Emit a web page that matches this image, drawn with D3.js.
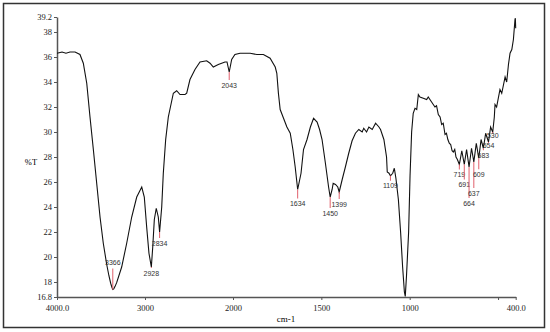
<!DOCTYPE html>
<html>
<head>
<meta charset="utf-8">
<script src="https://cdn.jsdelivr.net/npm/d3@7"></script>
<style>
  body { margin: 0; background: #fff; }
  svg { display: block; }
  .tick text { font-family: "Liberation Serif", serif; font-size: 8.5px; fill: #222; }
  .axis path, .axis line { stroke: #555; }
  .peak { font-family: "Liberation Sans", Arial, sans-serif; font-size: 7px; fill: #333; }
</style>
</head>
<body>
<svg width="550" height="332"></svg>
<script>
// spectrum
var wavenumber = [4000,3943,3898,3852,3795,3739,3701,3662,3625,3587,3549,3511,3474,3435,3410,3390,3375,3366,3355,3340,3322,3265,3208,3151,3094,3037,3008,2981,2955,2928,2912,2894,2872,2849,2834,2810,2792,2765,2735,2678,2640,2602,2545,2526,2489,2432,2375,2299,2261,2224,2167,2091,2068,2043,2015,1989,1960,1903,1865,1828,1790,1761,1752,1743,1733,1714,1695,1676,1661,1648,1634,1615,1601,1581,1562,1544,1524,1510,1496,1477,1459,1450,1439,1433,1420,1407,1399,1382,1364,1345,1326,1307,1288,1269,1260,1244,1231,1212,1193,1174,1165,1146,1131,1127,1117,1109,1096,1087,1078,1064,1051,1040,1030,1025,1018,1006,998,989,980,970,960,951,942,923,904,895,876,857,848,838,828,819,810,800,792,784,776,768,760,753,745,738,730,719,705,691,678,664,650,637,623,609,596,583,570,554,542,530,521,517,508,489,479,460,451,441,432,422,413,404,402,400];
var transmittance = [36.3,36.4,36.3,36.4,36.4,36.2,35.5,33.9,31.2,28.6,25.9,23.2,21.1,19.4,18.5,17.9,17.55,17.4,17.45,17.65,17.95,19.2,21.1,23.2,24.8,25.6,24.8,22.4,20.3,19.2,20.8,23.0,23.9,23.2,22.0,24.0,26.7,29.4,31.2,33.1,33.3,33.0,33.0,33.1,34.2,35.0,35.6,35.7,35.5,35.2,35.4,35.6,35.6,34.8,35.8,36.2,36.3,36.3,36.2,36.2,35.9,35.2,34.7,33.1,31.8,31.1,30.4,29.9,28.6,27.2,25.4,26.7,28.6,29.4,30.4,31.1,30.8,30.2,29.4,27.5,25.6,24.8,25.4,25.9,25.8,25.6,25.2,26.2,27.2,28.3,29.3,29.9,30.2,30.0,30.3,30.0,30.4,30.2,30.7,30.4,30.2,29.4,28.0,26.8,26.7,26.5,26.7,27.1,26.3,24.6,21.9,19.2,17.2,16.85,18.5,22.0,26.5,30.0,31.5,31.9,31.8,33.0,32.8,32.7,32.6,32.8,32.4,32.0,32.1,31.4,31.2,30.6,30.7,29.8,29.9,29.4,29.1,29.0,28.5,28.4,28.6,28.0,27.8,27.4,28.5,27.4,28.6,27.2,28.7,27.6,29.1,27.9,29.4,28.7,29.9,29.2,30.4,30.0,31.2,32.2,32.0,33.4,33.1,34.4,34.0,35.4,36.3,36.6,37.4,39.0,39.1,38.3];

var peakLabels = ["3366","2928","2834","2043","1634","1450","1399","1109","719","691","664","637","609","583","554","530"];
var peakWn = [3366,2928,2834,2043,1634,1450,1399,1109,719,691,664,637,609,583,554,530];
var peakT = [17.4,19.2,22.0,34.8,25.4,24.8,25.2,26.5,27.4,27.4,27.2,27.6,27.9,28.7,29.2,30.0];
// px from the trough to the label centre (negative = above)
var peakDrop = [-27,6,11,13,14,16,12,10,10,20,36,31,16,7,3,3];

var yTicks = [16.8,18,20,22,24,26,28,30,32,34,36,38,39.2];
var xTicks = [4000,3000,2000,1500,1000,500,400];
var xTickLabels = {4000:"4000.0",3000:"3000",2000:"2000",1500:"1500",1000:"1000",500:"",400:"400.0"};

var svg = d3.select("svg");

svg.append("rect")
    .attr("x", 3.5).attr("y", 3.5)
    .attr("width", 541).attr("height", 324)
    .attr("fill", "none").attr("stroke", "#333").attr("stroke-width", 1.5);

// FTIR scale change at 2000 cm-1
var x = d3.scaleLinear().domain([4000, 2000, 400]).range([57, 233, 515.7]);
var y = d3.scaleLinear().domain([16.8, 39.2]).range([297, 17]);

svg.append("g")
    .attr("class", "axis")
    .attr("transform", "translate(0,297)")
    .call(d3.axisBottom(x).tickValues(xTicks).tickSize(3).tickPadding(5).tickSizeOuter(0)
        .tickFormat(function(d) { return xTickLabels[d]; }))
    .call(function(g) { g.select(".domain").attr("stroke-width", 1.5); });

svg.append("g")
    .attr("class", "axis")
    .attr("transform", "translate(57,0)")
    .call(d3.axisLeft(y).tickValues(yTicks).tickSize(3).tickPadding(2).tickSizeOuter(0)
        .tickFormat(function(d) { return d % 1 ? d3.format(".1f")(d) : d; }))
    .call(function(g) { g.select(".domain").attr("stroke-width", 1.5); });

svg.append("text")
    .attr("x", 286).attr("y", 322)
    .attr("text-anchor", "middle")
    .style("font-family", "Liberation Serif, serif").style("font-size", "9px")
    .text("cm-1");

svg.append("text")
    .attr("x", 31).attr("y", 165)
    .attr("text-anchor", "middle")
    .style("font-family", "Liberation Serif, serif").style("font-size", "8.5px")
    .text("%T");

var spectrum = wavenumber.map(function(w, i) { return [w, transmittance[i]]; });

var line = d3.line()
    .x(function(d) { return x(d[0]); })
    .y(function(d) { return y(d[1]); });

svg.append("path")
    .datum(spectrum)
    .attr("fill", "none")
    .attr("stroke", "#111")
    .attr("stroke-width", 1.1)
    .attr("d", line);

var peaks = svg.append("g").selectAll("g")
    .data(peakLabels)
  .enter().append("g");

peaks.append("line")
    .attr("x1", function(d, i) { return x(peakWn[i]); })
    .attr("x2", function(d, i) { return x(peakWn[i]); })
    .attr("y1", function(d, i) { return y(peakT[i]); })
    .attr("y2", function(d, i) {
        var dy = peakDrop[i];
        return y(peakT[i]) + (dy < 0 ? dy + 6 : Math.max(dy - 5, 1));
    })
    .attr("stroke", "#e0606c")
    .attr("stroke-width", 1);

peaks.append("text")
    .attr("class", "peak")
    .attr("x", function(d, i) { return x(peakWn[i]); })
    .attr("y", function(d, i) { return y(peakT[i]) + peakDrop[i] + 2.5; })
    .attr("text-anchor", "middle")
    .text(function(d) { return d; });
</script>
</body>
</html>
